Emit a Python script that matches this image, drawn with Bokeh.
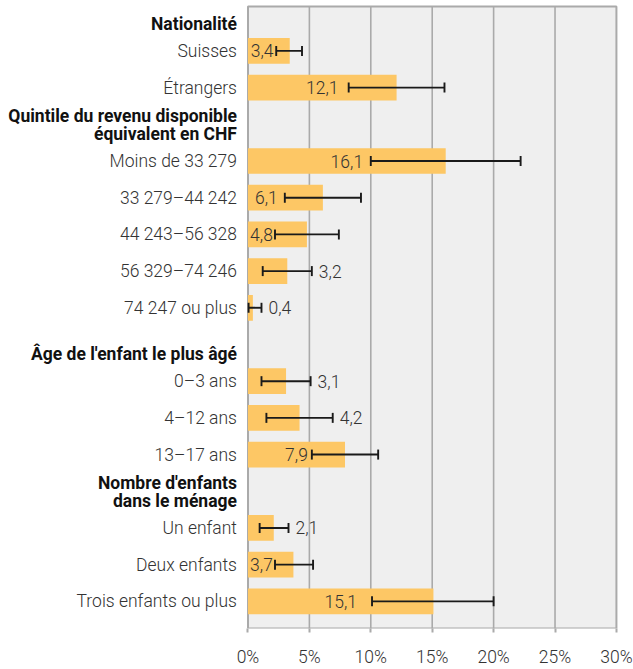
from bokeh.plotting import figure
from bokeh.models import ColumnDataSource, Range1d, FixedTicker, Whisker, TeeHead
from bokeh.core.properties import value
from bokeh.embed import file_html
from bokeh.resources import INLINE

# ---------------- data ----------------
categories = ["Suisses", "Étrangers",
              "Moins de 33 279", "33 279–44 242", "44 243–56 328", "56 329–74 246", "74 247 ou plus",
              "0–3 ans", "4–12 ans", "13–17 ans",
              "Un enfant", "Deux enfants", "Trois enfants ou plus"]
row_pos = [0, 1, 3, 4, 5, 6, 7, 9, 10, 11, 13, 14, 15]
values = [3.4, 12.1, 16.1, 6.1, 4.8, 3.2, 0.4, 3.1, 4.2, 7.9, 2.1, 3.7, 15.1]
ci_low = [2.3, 8.2, 10.0, 3.0, 2.2, 1.2, 0.05, 1.1, 1.5, 5.2, 0.95, 2.2, 10.1]
ci_high = [4.4, 16.0, 22.2, 9.2, 7.4, 5.2, 1.1, 5.1, 6.9, 10.6, 3.3, 5.3, 20.0]

headers = ["Nationalité",
           "Quintile du revenu disponible\néquivalent en CHF",
           "Âge de l'enfant le plus âgé",
           "Nombre d'enfants\ndans le ménage"]
header_pos = [-1, 2, 8, 12]

x_ticks = [0, 5, 10, 15, 20, 25, 30]
x_tick_labels = ["0%", "5%", "10%", "15%", "20%", "25%", "30%"]

# ---------------- layout constants ----------------
X_MIN, X_MAX = -20.15, 31.39
Y_TOP, Y_BOTTOM = -1.374, 15.74
Y_BG_TOP = -1.21
BAR_COLOR = "#fdc765"
LABEL_FONT = "Roboto Light"
FS = "17.5px"

# value label placement
lab_text, lab_x, lab_align, lab_off = [], [], [], []
for v, lo, hi in zip(values, ci_low, ci_high):
    t = f"{v:.1f}".replace(".", ",")
    half = 0.33 * len(t)
    gap = 0.15
    if lo >= 2 * half + gap:
        cx = v / 2 if v / 2 + half + gap <= lo else lo / 2
        lab_x.append(cx); lab_align.append("center"); lab_off.append(0)
    else:
        lab_x.append(hi); lab_align.append("left"); lab_off.append(7)
    lab_text.append(t)

# header lines
h_text, h_y, h_off = [], [], []
for h, pos in zip(headers, header_pos):
    lines = h.split("\n")
    n = len(lines)
    for k, ln in enumerate(lines):
        h_text.append(ln)
        h_y.append(pos)
        h_off.append(9.5 - (n - 1 - k) * 17.6)

p = figure(width=633, height=669, output_backend="svg", toolbar_location=None,
           x_range=Range1d(X_MIN, X_MAX), y_range=Range1d(Y_BOTTOM, Y_TOP),
           y_axis_location=None, min_border_left=0, min_border_right=0,
           min_border_top=0, min_border_bottom=40)
p.outline_line_color = None
p.grid.visible = False
p.background_fill_color = "white"
p.border_fill_color = "white"

# plot area background
p.quad(left=0, right=x_ticks[-1], top=Y_BG_TOP, bottom=Y_BOTTOM,
       fill_color="#efefef", line_color="#aaaaaa", line_width=2)
# vertical grid lines
p.segment(x0=x_ticks[1:-1], x1=x_ticks[1:-1], y0=Y_BG_TOP, y1=Y_BOTTOM,
          line_color="#aaaaaa", line_width=1.6)

src = ColumnDataSource(dict(y=row_pos, v=values, lo=ci_low, hi=ci_high, cat=categories,
                            lt=lab_text, lx=lab_x, la=lab_align, lo_off=lab_off))

p.hbar(y="y", left=0, right="v", height=0.7, source=src, fill_color=BAR_COLOR, line_color=None)

wh = Whisker(source=src, base="y", lower="lo", upper="hi", dimension="width",
             line_color="#1a1a1a", line_width=1.9, level="overlay",
             lower_head=TeeHead(size=10, line_color="#1a1a1a", line_width=1.9),
             upper_head=TeeHead(size=10, line_color="#1a1a1a", line_width=1.9))
p.add_layout(wh)

# value labels
p.text(x="lx", y="y", text="lt", source=src, text_align="la", x_offset="lo_off",
       text_baseline="middle", text_font=value(LABEL_FONT), text_font_size=FS,
       text_color="#333333")

# category labels
p.text(x=0, y="y", text="cat", source=src, x_offset=-11, text_align="right",
       text_baseline="middle", text_font=value(LABEL_FONT), text_font_size=FS,
       text_color="#333333")

# group headers
hsrc = ColumnDataSource(dict(y=h_y, t=h_text, off=h_off))
p.text(x=0, y="y", text="t", source=hsrc, x_offset=-11, y_offset="off", text_align="right",
       text_baseline="middle", text_font=value("Roboto"), text_font_style="bold",
       text_font_size="17.5px", text_color="#111111")

# x axis
p.xaxis.ticker = FixedTicker(ticks=x_ticks)
p.xaxis.major_label_overrides = {t: l for t, l in zip(x_ticks, x_tick_labels)}
p.xaxis.axis_line_color = None
p.xaxis.major_tick_line_color = "#aaaaaa"
p.xaxis.major_tick_line_width = 2
p.xaxis.major_tick_in = 0
p.xaxis.major_tick_out = 4
p.xaxis.minor_tick_line_color = None
p.xaxis.major_label_standoff = 14
p.xaxis.major_label_text_font = LABEL_FONT
p.xaxis.major_label_text_font_size = FS
p.xaxis.major_label_text_color = "#333333"

open("out.html", "w").write(file_html(p, INLINE))
